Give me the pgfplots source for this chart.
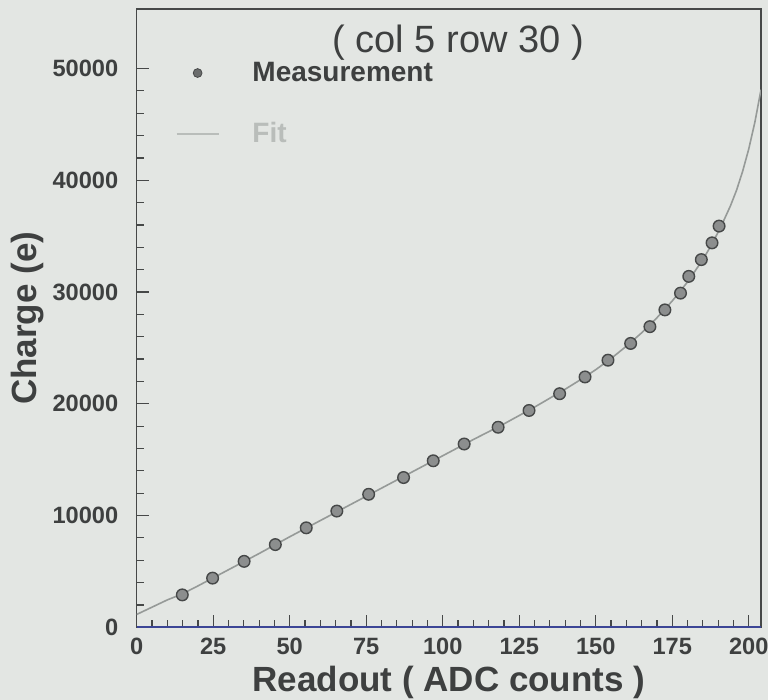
\documentclass[border=0pt]{standalone}
\usepackage{pgfplots}
\pgfplotsset{compat=1.18}
\usepackage{fontspec}
\setmainfont{Liberation Sans}
\definecolor{bg}{RGB}{227,230,227}
\definecolor{txt}{RGB}{62,64,64}
\definecolor{spine}{RGB}{70,72,72}
\definecolor{fitc}{RGB}{150,154,152}
\definecolor{fitleg}{RGB}{185,189,186}
\definecolor{mkfill}{RGB}{140,142,142}
\definecolor{mkdraw}{RGB}{70,72,72}
\definecolor{bottomline}{RGB}{60,70,150}
\begin{document}
\begin{tikzpicture}
\fill[bg] (-68.35pt,-36.35pt) rectangle (315.65pt,313.65pt);
\useasboundingbox (-68.35pt,-36.35pt) rectangle (315.65pt,313.65pt);
\begin{axis}[
  at={(0,0)}, anchor=south west,
  width=312.15pt, height=309pt, scale only axis,
  xmin=0, xmax=204, ymin=0, ymax=55300,
  xtick={0,25,...,200}, minor x tick num=4,
  ytick={0,10000,...,50000}, minor y tick num=4,
  tick align=inside, tick pos=left,
  major tick length=6pt, minor tick length=3.5pt,
  tick style={spine, line width=0.6pt},
  axis line style={spine, line width=0.8pt},
  scaled y ticks=false,
  /pgf/number format/assume math mode=true,
  yticklabel={\pgfmathprintnumber[fixed,1000 sep={}]{\tick}},
  ticklabel style={font=\fontsize{11.8}{13}\selectfont\bfseries, text=txt},
  xticklabel style={yshift=-2pt},
  yticklabel style={xshift=-5.7pt},
  xlabel={Readout ( ADC counts )},
  ylabel={Charge (e)},
  label style={font=\fontsize{17.5}{20}\selectfont\bfseries, text=txt},
  xlabel style={at={([yshift=-27.35pt]rel axis cs:0.5,0)}, anchor=center},
  ylabel style={at={([xshift=-54.35pt]rel axis cs:0,0.5)}, anchor=center},
  legend style={at={(rel axis cs:0.0614,0.922)}, anchor=north west,
    draw=none, fill=none, inner sep=0pt, row sep=15pt,
    font=\fontsize{14}{16}\selectfont\bfseries,
    cells={anchor=west}},
  legend cell align=left,
]
\addplot[only marks, mark=*, mark size=2.9pt,
  mark options={fill=mkfill, draw=mkdraw, line width=0.7pt},
  legend image code/.code={\draw[fill=mkdraw!80, draw=mkdraw] (10.5pt,0pt) circle (2.2pt); \path (0pt,0pt) (35.5pt,0pt);}]
coordinates {
(14.9,2900) (24.8,4400) (35.1,5900) (45.3,7400) (55.4,8900)
(65.4,10400) (75.8,11900) (87.2,13400) (96.9,14900) (107.0,16400)
(118.1,17900) (128.2,19400) (138.2,20900) (146.5,22400) (154.0,23900)
(161.4,25400) (167.7,26900) (172.6,28400) (177.7,29900) (180.4,31400)
(184.5,32900) (188.0,34400) (190.3,35900)
};
\addlegendentry{\textcolor{txt}{Measurement}}
\addplot[fitc, line width=0.8pt, no marks,
  legend image code/.code={\draw[fitleg, line width=1.2pt] (0pt,0pt) -- (21pt,0pt); \path (35.5pt,0pt);}]
coordinates {
(0,1150) (10,2450) (15,3000) (20,3700) (30,5150) (40,6600) (50,8100)
(60,9550) (70,11000) (80,12450) (90,13900) (100,15350) (110,16800)
(120,18200) (130,19700) (140,21300) (145,22150) (150,23050) (155,24050)
(160,25150) (165,26350) (170,27700) (175,29200) (180,30900) (185,32900)
(188,34300) (191,35900) (194,37700) (196,39100) (198,40800) (200,42800)
(202,45200) (204,48100)
};
\addlegendentry{\textcolor{fitleg}{Fit}}
\node[font=\fontsize{19}{22}\selectfont, text=txt] at (rel axis cs:0.515,0.946) {( col 5 row 30 )};
\draw[bottomline, line width=0.9pt] (rel axis cs:0,0) -- (rel axis cs:1,0);
\end{axis}
\end{tikzpicture}
\end{document}
